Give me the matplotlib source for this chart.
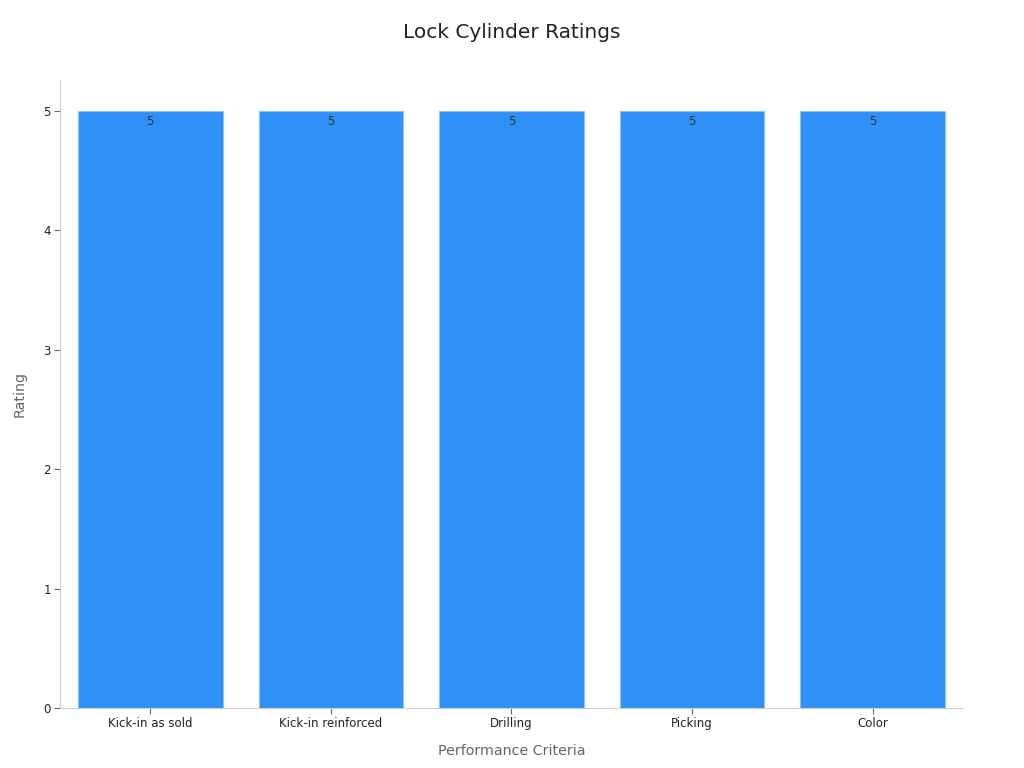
import matplotlib
matplotlib.use('Agg')
import matplotlib.pyplot as plt

criteria = ['Kick-in as sold', 'Kick-in reinforced', 'Drilling', 'Picking', 'Color']
ratings = [5, 5, 5, 5, 5]

fig = plt.figure(figsize=(10.24, 7.68), dpi=100)
ax = fig.add_axes([0.0586, 0.078, 0.8818, 0.818])

x = range(len(criteria))
bars = ax.bar(x, ratings, width=0.8, color='#2F91F8', edgecolor='#8EC3FA', linewidth=0.8)
for b, v in zip(bars, ratings):
    ax.text(b.get_x() + b.get_width() / 2, v - 0.03, str(v), ha='center', va='top',
            fontsize=8.5, color='#333333')

ax.set_xlim(-0.5, 4.5)
ax.set_ylim(0, 5.26)
ax.set_xticks(list(x))
ax.set_xticklabels(criteria)
ax.set_yticks([0, 1, 2, 3, 4, 5])
ax.tick_params(labelsize=8.5, colors='#222222', length=4, pad=2.5)
ax.tick_params(axis='both', color='#666666')

for s in ['top', 'right']:
    ax.spines[s].set_visible(False)
for s in ['left', 'bottom']:
    ax.spines[s].set_color('#cccccc')

ax.set_xlabel('Performance Criteria', fontsize=10.3, color='#666666', labelpad=10)
ax.set_ylabel('Rating', fontsize=10.3, color='#666666', labelpad=12)
fig.suptitle('Lock Cylinder Ratings', fontsize=14.5, color='#222222', y=0.97)

fig.savefig('out.png', dpi=100)
